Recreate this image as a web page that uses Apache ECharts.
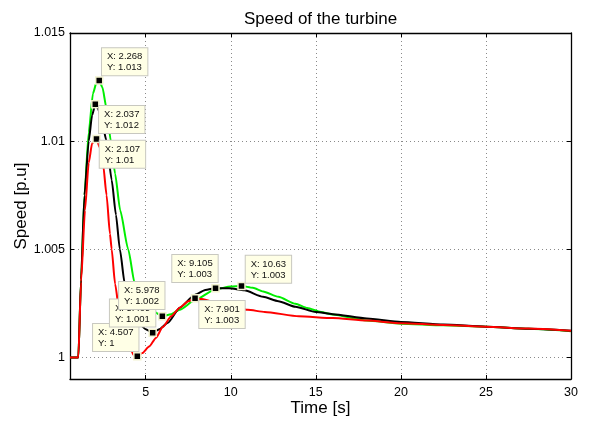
<!DOCTYPE html>
<html>
<head>
<meta charset="utf-8">
<script src="https://cdn.jsdelivr.net/npm/echarts@6/dist/echarts.min.js"></script>
<style>
  html, body { margin: 0; padding: 0; background: #fff; }
  #chart { width: 589px; height: 421px; }
</style>
</head>
<body>
<div id="chart"></div>
<script>
// Speed traces (time in s, speed in p.u.)
const greenTime = [0.55, 1.04, 1.2, 1.4, 1.65, 1.9, 2.1, 2.268, 2.45, 2.7, 2.95, 3.2, 3.5, 3.97, 4.36, 4.8, 5.3, 5.978, 6.5, 7.0, 7.9, 9.1, 10.0, 10.63, 11.3, 11.9, 12.8, 13.8, 14.5, 15.3, 16, 18, 20, 22.5, 25, 27.5, 30];
const greenSpeed = [1.0, 1.0, 1.0036, 1.0075, 1.0104, 1.0122, 1.0127, 1.0128, 1.0125, 1.0115, 1.0100, 1.0085, 1.0068, 1.0050, 1.0034, 1.0027, 1.0022, 1.0019, 1.0020, 1.0022, 1.00265, 1.00315, 1.00328, 1.0033, 1.00322, 1.00305, 1.0028, 1.00248, 1.00228, 1.0021, 1.00198, 1.0017, 1.00156, 1.00148, 1.00142, 1.00132, 1.00121];

const blackTime = [0.55, 1.04, 1.2, 1.4, 1.65, 1.85, 2.037, 2.2, 2.4, 2.7, 3.0, 3.25, 3.48, 3.77, 4.0, 4.3, 4.7, 5.0, 5.41, 5.8, 6.3, 7.0, 7.9, 8.5, 9.105, 9.9, 10.8, 11.9, 12.8, 13.8, 15, 16, 18, 20, 22.5, 25, 27.5, 30];
const blackSpeed = [1.0, 1.0, 1.0036, 1.0075, 1.0100, 1.0112, 1.0117, 1.0115, 1.0110, 1.0100, 1.0082, 1.0066, 1.0050, 1.0034, 1.0026, 1.0020, 1.0015, 1.0013, 1.00114, 1.0013, 1.0016, 1.0023, 1.0029, 1.00312, 1.0032, 1.0032, 1.0031, 1.0028, 1.0026, 1.00234, 1.0021, 1.0020, 1.0018, 1.00164, 1.00152, 1.00142, 1.00132, 1.00123];

const redTime = [0.55, 1.04, 1.2, 1.43, 1.65, 1.85, 2.107, 2.3, 2.5, 2.7, 2.9, 3.0, 3.2, 3.5, 3.8, 4.1, 4.3, 4.507, 4.8, 5.2, 5.6, 6.0, 6.5, 7.0, 7.5, 7.901, 8.3, 8.8, 9.3, 9.9, 11, 12, 14, 16, 18, 20, 22.5, 25, 27.5, 30];
const redSpeed = [1.0, 1.0, 1.0035, 1.0068, 1.0090, 1.0099, 1.0101, 1.0097, 1.0089, 1.0075, 1.0057, 1.0050, 1.0034, 1.0018, 1.0009, 1.0004, 1.0001, 1.00004, 1.0002, 1.0005, 1.0009, 1.0014, 1.0019, 1.0023, 1.0026, 1.00273, 1.0027, 1.0026, 1.00248, 1.00234, 1.0022, 1.0021, 1.0019, 1.00182, 1.0017, 1.00158, 1.0015, 1.00142, 1.00133, 1.00123];

// Data tips (marker point and its text)
const tipTime  = [2.268, 2.037, 2.107, 4.507, 5.41, 5.978, 7.901, 9.105, 10.63];
const tipSpeed = [1.0128, 1.0117, 1.0101, 1.00005, 1.00114, 1.0019, 1.00273, 1.0032, 1.0033];
const tipText  = [
  'X: 2.268\nY: 1.013', 'X: 2.037\nY: 1.012', 'X: 2.107\nY: 1.01',
  'X: 4.507\nY: 1', 'X: 5.409\nY: 1.001', 'X: 5.978\nY: 1.002',
  'X: 7.901\nY: 1.003', 'X: 9.105\nY: 1.003', 'X: 10.63\nY: 1.003'
];
// label box offset from the marker, px
const tipOffset = [[7, -28], [8, 6], [7.5, 6], [-40, -28], [-38.5, -29], [-39, -30], [8.5, 7], [-39, -29], [8.5, -26]];

const xTicks = [5, 10, 15, 20, 25, 30];
const yTicks = [1, 1.005, 1.01, 1.015];

const FONT = '"Liberation Sans", Arial, sans-serif';

function pairs(xs, ys) {
  return xs.map((x, i) => [x, ys[i]]);
}

const chart = echarts.init(document.getElementById('chart'));

const gridLine = { show: true, lineStyle: { color: '#8a8a8a', type: [1, 3], width: 1 } };
const axisLine = { show: true, onZero: false, lineStyle: { color: '#000', width: 1.3 } };

const option = {
  animation: false,
  backgroundColor: '#fff',
  title: {
    text: 'Speed of the turbine',
    left: 239, top: 6,
    textStyle: { fontFamily: FONT, fontSize: 17, fontWeight: 'normal', color: '#000' }
  },
  grid: { left: 70, right: 18, top: 33, bottom: 42, outerBoundsMode: 'none', containLabel: false },
  xAxis: [
    {
      type: 'value', min: 0.55, max: 30, position: 'bottom',
      name: 'Time [s]', nameLocation: 'middle', nameGap: 21, nameMoveOverlap: false,
      nameTextStyle: { fontFamily: FONT, fontSize: 17, color: '#000' },
      axisLine: axisLine,
      axisTick: { show: true, inside: true, length: 4, customValues: xTicks, lineStyle: { color: '#000' } },
      axisLabel: { customValues: xTicks, margin: 7, fontFamily: FONT, fontSize: 12.5, color: '#000' },
      splitLine: gridLine
    },
    {
      type: 'value', min: 0.55, max: 30, position: 'top',
      axisLine: axisLine,
      axisTick: { show: true, inside: true, length: 4, customValues: xTicks, lineStyle: { color: '#000' } },
      axisLabel: { show: false },
      splitLine: { show: false }
    }
  ],
  yAxis: [
    {
      type: 'value', min: 0.999, max: 1.015, position: 'left',
      name: 'Speed [p.u]', nameLocation: 'middle', nameGap: 40, nameRotate: 90, nameMoveOverlap: false,
      nameTextStyle: { fontFamily: FONT, fontSize: 17, color: '#000' },
      axisLine: axisLine,
      axisTick: { show: true, inside: true, length: 4, customValues: yTicks, lineStyle: { color: '#000' } },
      axisLabel: {
        customValues: yTicks, margin: 5, fontFamily: FONT, fontSize: 12.5, color: '#000',
        formatter: (v) => String(parseFloat(v.toFixed(4)))
      },
      splitLine: gridLine
    },
    {
      type: 'value', min: 0.999, max: 1.015, position: 'right',
      axisLine: axisLine,
      axisTick: { show: true, inside: true, length: 4, customValues: yTicks, lineStyle: { color: '#000' } },
      axisLabel: { show: false },
      splitLine: { show: false }
    }
  ],
  series: [
    {
      name: 'green', type: 'line', data: pairs(greenTime, greenSpeed), z: 2,
      symbol: 'none', smooth: 0.2, smoothMonotone: 'x', lineStyle: { color: '#00ee00', width: 2 }
    },
    {
      name: 'black', type: 'line', data: pairs(blackTime, blackSpeed), z: 2,
      symbol: 'none', smooth: 0.2, smoothMonotone: 'x', lineStyle: { color: '#000', width: 2 }
    },
    {
      name: 'red', type: 'line', data: pairs(redTime, redSpeed), z: 2,
      symbol: 'none', smooth: 0.2, smoothMonotone: 'x', lineStyle: { color: '#ff0000', width: 2 }
    },
    {
      name: 'tips', type: 'scatter', symbol: 'rect', symbolSize: 7, z: 10,
      itemStyle: { color: '#000', borderColor: '#f2f2cf', borderWidth: 1.5, opacity: 1 },
      data: tipTime.map((t, i) => ({
        value: [t, tipSpeed[i]],
        label: {
          show: true,
          formatter: tipText[i],
          position: tipOffset[i],
          opacity: 1,
          fontFamily: FONT, fontSize: 9.5, lineHeight: 11, color: '#111',
          backgroundColor: '#ffffe6',
          borderColor: '#c8c8c0', borderWidth: 1,
          padding: [3, 5, 2, 5]
        }
      }))
    }
  ]
};

chart.setOption(option);
</script>
</body>
</html>
